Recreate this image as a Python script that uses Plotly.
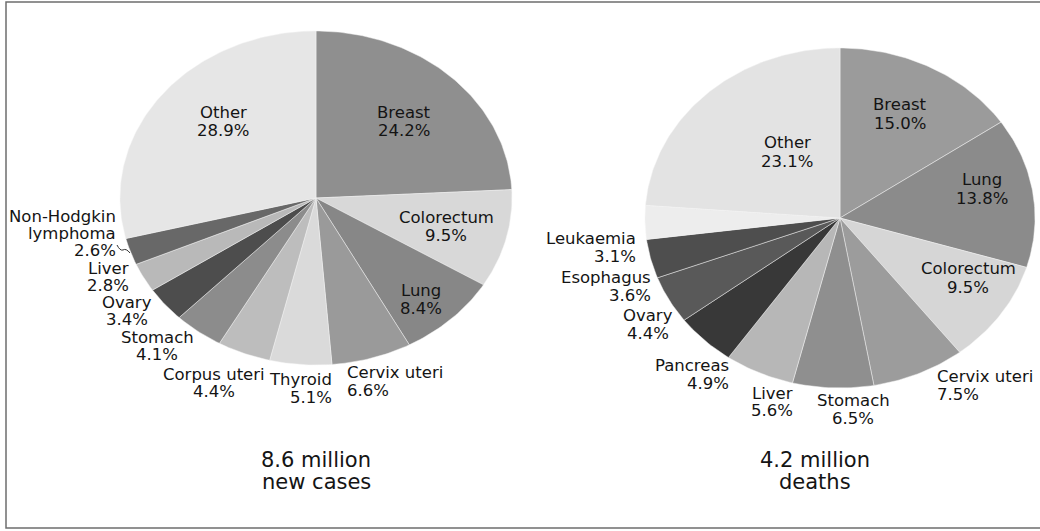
import numpy as np
import plotly.graph_objects as go

# ---- data -------------------------------------------------------------
new_case_sites = ["Breast", "Colorectum", "Lung", "Cervix uteri", "Thyroid",
                  "Corpus uteri", "Stomach", "Ovary", "Liver",
                  "Non-Hodgkin lymphoma", "Other"]
new_case_pct = [24.2, 9.5, 8.4, 6.6, 5.1, 4.4, 4.1, 3.4, 2.8, 2.6, 28.9]

death_sites = ["Breast", "Lung", "Colorectum", "Cervix uteri", "Stomach",
               "Liver", "Pancreas", "Ovary", "Esophagus", "Leukaemia", "Other"]
death_pct = [15.0, 13.8, 9.5, 7.5, 6.5, 5.6, 4.9, 4.4, 3.6, 3.1, 23.1]

new_case_total = "8.6 million"
new_case_caption = "new cases"
death_total = "4.2 million"
death_caption = "deaths"

# ---- styling ----------------------------------------------------------
new_case_colors = ["#8f8f8f", "#d8d8d8", "#878787", "#9a9a9a", "#dadada",
                   "#bdbdbd", "#8c8c8c", "#4d4d4d", "#b9b9b9", "#686868",
                   "#e6e6e6"]
death_colors = ["#9b9b9b", "#8b8b8b", "#d6d6d6", "#9c9c9c", "#8f8f8f",
                "#b7b7b7", "#383838", "#595959", "#4e4e4e", "#ededed",
                "#e3e3e3"]

# label anchor: (x, y of first line, horizontal alignment, line pitch)
new_case_label_pos = [(404, 112, "center", 18), (446, 217, "center", 18),
                      (421, 290, "center", 18), (345, 372, "left", 18),
                      (334, 379, "right", 18), (214, 374, "center", 17),
                      (157, 337, "center", 17), (127, 302, "center", 17),
                      (108, 268, "center", 17), (118, 216, "right", 17),
                      (223, 112, "center", 18)]
death_label_pos = [(900, 104, "center", 19), (982, 179, "center", 19),
                   (968, 268, "center", 19), (935, 376, "left", 18),
                   (853, 400, "center", 18), (772, 393, "center", 17),
                   (731, 365, "right", 18), (648, 315, "center", 18),
                   (653, 277, "right", 18), (638, 238, "right", 18),
                   (787, 142, "center", 19)]

line_breaks = {"Non-Hodgkin lymphoma": ["Non-Hodgkin", "lymphoma"]}

FONT = "DejaVu Sans"
TEXT_COLOR = "#141414"
W, H = 1040, 531

fig = go.Figure()
annotations = []


def add_pie(values, names, colors, cx, cy, rx, ry, label_pos):
    total = float(sum(values))
    start = 0.0
    for val, name, col in zip(values, names, colors):
        frac = val / total
        t0, t1 = start * 2 * np.pi, (start + frac) * 2 * np.pi
        t = np.linspace(t0, t1, max(8, int(frac * 400)))
        xs = np.concatenate([[cx], cx + rx * np.sin(t), [cx]])
        ys = np.concatenate([[cy], cy - ry * np.cos(t), [cy]])
        fig.add_trace(go.Scatter(
            x=xs, y=ys, mode="lines", fill="toself", fillcolor=col,
            line=dict(color="rgba(245,245,245,0.8)", width=0.6),
            name=name, hoverinfo="text", text=f"{name}: {val:.1f}%",
            showlegend=False))
        start += frac
    for val, name, (lx, ly, align, pitch) in zip(values, names, label_pos):
        lines = line_breaks.get(name, [name]) + [f"{val:.1f}%"]
        for i, ln in enumerate(lines):
            annotations.append(dict(
                x=lx, y=ly + i * pitch, xref="x", yref="y", text=ln,
                showarrow=False, xanchor=align, yanchor="middle",
                font=dict(family=FONT, size=16.5, color=TEXT_COLOR)))


add_pie(new_case_pct, new_case_sites, new_case_colors,
        316, 198, 196, 167, new_case_label_pos)
add_pie(death_pct, death_sites, death_colors,
        840, 218, 195, 170, death_label_pos)

# totals under each pie
for x, top, bottom in [(316, new_case_total, new_case_caption),
                       (815, death_total, death_caption)]:
    for i, txt in enumerate([top, bottom]):
        annotations.append(dict(
            x=x, y=460 + i * 22, xref="x", yref="y", text=txt,
            showarrow=False, xanchor="center", yanchor="middle",
            font=dict(family=FONT, size=21, color=TEXT_COLOR)))

shapes = [
    # outer frame
    dict(type="rect", xref="x", yref="y", x0=6, y0=2, x1=1044, y1=528,
         line=dict(color="#6e6e6e", width=1.5), layer="below"),
    # small leader for the lymphoma label
    dict(type="path", xref="x", yref="y",
         path="M 117 245 Q 120 251 123 250 Q 126 248 130 253",
         line=dict(color="#333333", width=1)),
]

fig.update_layout(
    width=W, height=H, margin=dict(l=0, r=0, t=0, b=0),
    paper_bgcolor="white", plot_bgcolor="white",
    xaxis=dict(range=[0, W], visible=False, fixedrange=True),
    yaxis=dict(range=[H, 0], visible=False, fixedrange=True),
    annotations=annotations, shapes=shapes, showlegend=False,
)

fig.write_html("out.html")
